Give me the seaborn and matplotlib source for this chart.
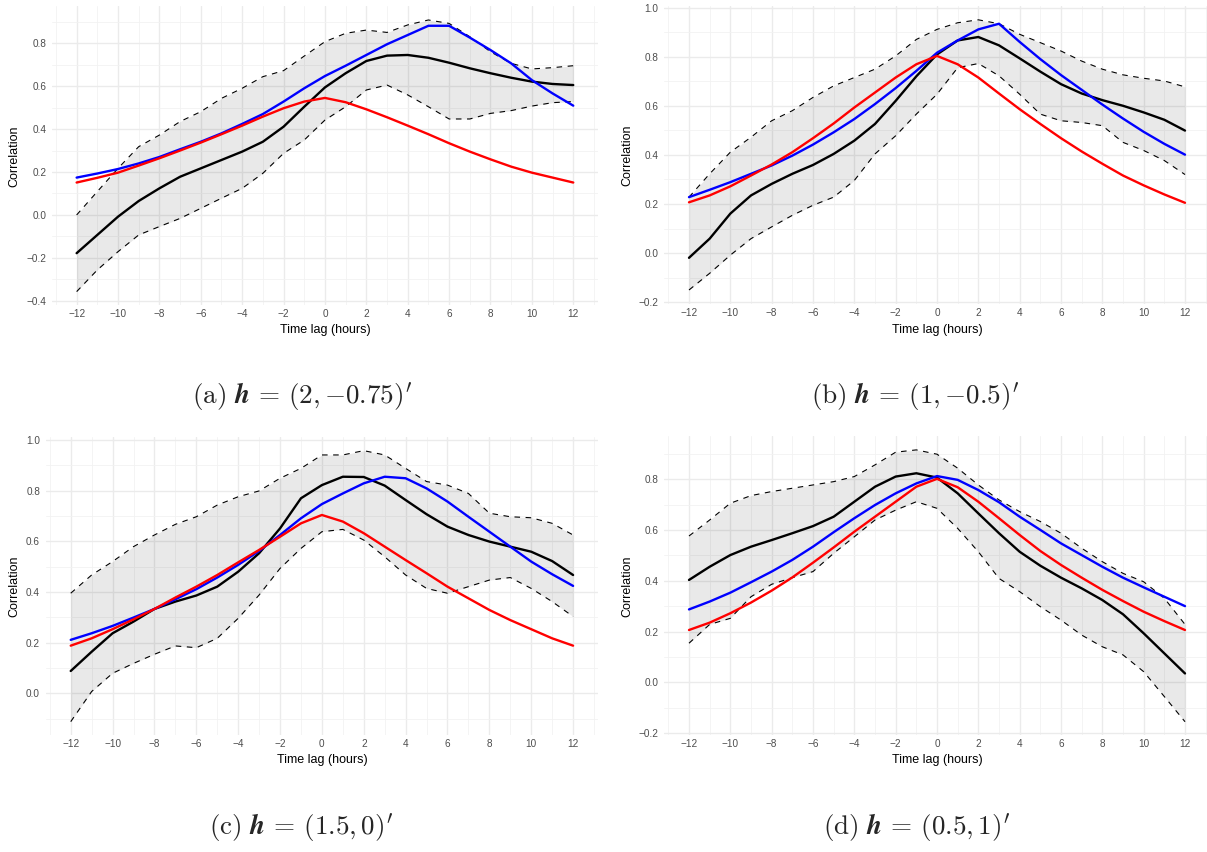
import numpy as np
import pandas as pd
import matplotlib
matplotlib.use("Agg")
import matplotlib.pyplot as plt
from matplotlib.ticker import MultipleLocator, FuncFormatter
import seaborn as sns

sns.set_theme(style="white")
plt.rcParams['font.family'] = ['Liberation Sans', 'DejaVu Sans']
plt.rcParams['mathtext.fontset'] = 'cm'

lags = list(range(-12, 13))

a_black = [-0.178, -0.093, -0.008, 0.065, 0.124, 0.178, 0.217, 0.256, 0.295, 0.341, 0.411, 0.504,
           0.594, 0.66, 0.717, 0.742, 0.745, 0.732, 0.709, 0.683, 0.66, 0.639, 0.621, 0.61, 0.605]
a_blue = [0.174, 0.193, 0.214, 0.24, 0.27, 0.306, 0.341, 0.38, 0.424, 0.47, 0.528, 0.59,
          0.647, 0.695, 0.745, 0.795, 0.838, 0.881, 0.881, 0.826, 0.768, 0.706, 0.628, 0.566, 0.509]
a_red = [0.151, 0.173, 0.197, 0.23, 0.264, 0.3, 0.337, 0.376, 0.416, 0.458, 0.497, 0.528,
         0.545, 0.525, 0.492, 0.455, 0.416, 0.376, 0.334, 0.295, 0.259, 0.225, 0.197, 0.174, 0.151]
a_upper = [0.0, 0.109, 0.217, 0.318, 0.372, 0.435, 0.481, 0.543, 0.59, 0.644, 0.672, 0.74,
           0.807, 0.846, 0.861, 0.85, 0.885, 0.908, 0.892, 0.83, 0.76, 0.706, 0.68, 0.686, 0.695]
a_lower = [-0.357, -0.256, -0.171, -0.093, -0.054, -0.016, 0.031, 0.078, 0.124, 0.194, 0.287, 0.349,
           0.442, 0.504, 0.582, 0.605, 0.559, 0.504, 0.447, 0.447, 0.473, 0.486, 0.507, 0.523, 0.528]

b_black = [-0.019, 0.059, 0.161, 0.235, 0.282, 0.323, 0.359, 0.404, 0.458, 0.526, 0.62, 0.72,
           0.809, 0.866, 0.88, 0.846, 0.793, 0.739, 0.688, 0.65, 0.623, 0.6, 0.573, 0.543, 0.499]
b_blue = [0.228, 0.258, 0.289, 0.323, 0.357, 0.397, 0.442, 0.492, 0.546, 0.607, 0.672, 0.742,
          0.816, 0.866, 0.911, 0.934, 0.86, 0.79, 0.725, 0.665, 0.605, 0.548, 0.494, 0.445, 0.401]
b_red = [0.207, 0.235, 0.272, 0.316, 0.361, 0.411, 0.468, 0.528, 0.593, 0.654, 0.715, 0.769,
         0.803, 0.769, 0.715, 0.65, 0.586, 0.526, 0.468, 0.414, 0.364, 0.316, 0.276, 0.239, 0.205]
b_upper = [0.228, 0.323, 0.411, 0.472, 0.539, 0.58, 0.634, 0.681, 0.715, 0.749, 0.803, 0.87,
           0.911, 0.938, 0.95, 0.934, 0.891, 0.857, 0.823, 0.782, 0.749, 0.726, 0.712, 0.701, 0.677]
b_lower = [-0.15, -0.082, -0.008, 0.059, 0.107, 0.154, 0.195, 0.228, 0.296, 0.404, 0.478, 0.566,
           0.647, 0.755, 0.772, 0.722, 0.647, 0.566, 0.539, 0.532, 0.519, 0.451, 0.418, 0.377, 0.32]

c_black = [0.088, 0.164, 0.237, 0.283, 0.333, 0.362, 0.386, 0.421, 0.48, 0.553, 0.651, 0.77,
           0.822, 0.855, 0.854, 0.82, 0.763, 0.707, 0.658, 0.625, 0.599, 0.579, 0.559, 0.522, 0.467]
c_blue = [0.211, 0.237, 0.266, 0.299, 0.333, 0.371, 0.411, 0.457, 0.507, 0.562, 0.625, 0.691,
          0.747, 0.789, 0.829, 0.855, 0.849, 0.809, 0.757, 0.697, 0.638, 0.579, 0.52, 0.47, 0.424]
c_red = [0.188, 0.217, 0.253, 0.292, 0.333, 0.378, 0.421, 0.467, 0.517, 0.566, 0.618, 0.671,
         0.704, 0.678, 0.632, 0.579, 0.526, 0.474, 0.421, 0.375, 0.329, 0.289, 0.253, 0.217, 0.188]
c_upper = [0.395, 0.467, 0.52, 0.579, 0.625, 0.667, 0.697, 0.743, 0.776, 0.799, 0.849, 0.888,
           0.941, 0.941, 0.958, 0.941, 0.888, 0.836, 0.822, 0.789, 0.711, 0.697, 0.693, 0.671, 0.625]
c_lower = [-0.112, 0.007, 0.079, 0.118, 0.154, 0.187, 0.18, 0.217, 0.296, 0.388, 0.493, 0.572,
           0.638, 0.647, 0.605, 0.539, 0.467, 0.414, 0.395, 0.421, 0.447, 0.457, 0.414, 0.362, 0.303]

d_black = [0.403, 0.455, 0.501, 0.534, 0.56, 0.587, 0.615, 0.652, 0.711, 0.77, 0.81, 0.823,
           0.806, 0.744, 0.665, 0.587, 0.514, 0.459, 0.412, 0.37, 0.324, 0.268, 0.193, 0.114, 0.035]
d_blue = [0.287, 0.318, 0.353, 0.394, 0.436, 0.482, 0.534, 0.591, 0.646, 0.698, 0.744, 0.783,
          0.812, 0.797, 0.757, 0.709, 0.652, 0.6, 0.547, 0.501, 0.455, 0.412, 0.374, 0.337, 0.3]
d_red = [0.206, 0.235, 0.272, 0.314, 0.361, 0.413, 0.471, 0.531, 0.593, 0.652, 0.711, 0.77,
         0.801, 0.768, 0.711, 0.646, 0.58, 0.517, 0.462, 0.412, 0.364, 0.32, 0.278, 0.241, 0.206]
d_upper = [0.576, 0.639, 0.705, 0.735, 0.751, 0.764, 0.777, 0.79, 0.81, 0.856, 0.906, 0.915,
           0.898, 0.843, 0.777, 0.718, 0.672, 0.633, 0.587, 0.528, 0.475, 0.429, 0.396, 0.331, 0.228]
d_lower = [0.154, 0.228, 0.252, 0.337, 0.386, 0.412, 0.436, 0.508, 0.573, 0.639, 0.678, 0.711,
           0.685, 0.606, 0.514, 0.409, 0.357, 0.298, 0.245, 0.186, 0.14, 0.108, 0.042, -0.056, -0.155]

captions = [r"$\mathrm{(a)}\ \boldsymbol{h}\,=\,(2, {-}0.75)'$",
            r"$\mathrm{(b)}\ \boldsymbol{h}\,=\,(1, {-}0.5)'$",
            r"$\mathrm{(c)}\ \boldsymbol{h}\,=\,(1.5, 0)'$",
            r"$\mathrm{(d)}\ \boldsymbol{h}\,=\,(0.5, 1)'$"]

panels = [
    (a_black, a_blue, a_red, a_upper, a_lower),
    (b_black, b_blue, b_red, b_upper, b_lower),
    (c_black, c_blue, c_red, c_upper, c_lower),
    (d_black, d_blue, d_red, d_upper, d_lower),
]

W, H = 1207, 852
# pixel boxes (left, right, top, bottom)
boxes = [(51.8, 598.1, 6.4, 305.2),
         (664.2, 1209.8, 6.3, 303.5),
         (45.6, 598.2, 437.1, 735.2),
         (664.2, 1209.8, 436.3, 735.3)]
cap_pos = [(302, 397), (915, 397), (301, 828), (917, 828)]
ylab_x = [14, 627, 14, 627]
xlab_y = [330, 330, 760, 760]


def fmt_y(v, pos):
    s = '%.1f' % v
    if s == '-0.0':
        s = '0.0'
    return s.replace('-', '\u2212')


def fmt_x(v, pos):
    return ('%d' % round(v)).replace('-', '\u2212')


fig = plt.figure(figsize=(W / 100, H / 100), dpi=100)
fig.patch.set_facecolor('white')

for i, (blk, blu, rd, up, lo) in enumerate(panels):
    L, R, T, B = boxes[i]
    ax = fig.add_axes([L / W, (H - B) / H, (R - L) / W, (B - T) / H])
    ax.set_facecolor('white')
    df = pd.DataFrame({'lag': lags, 'black': blk, 'blue': blu, 'red': rd,
                       'upper': up, 'lower': lo})
    ax.fill_between(df['lag'], df['lower'], df['upper'], color='black', alpha=0.085,
                    linewidth=0, zorder=1)
    sns.lineplot(data=df, x='lag', y='upper', color='black', linewidth=0.8,
                 linestyle=(0, (5, 5)), ax=ax, zorder=2)
    sns.lineplot(data=df, x='lag', y='lower', color='black', linewidth=0.8,
                 linestyle=(0, (5, 5)), ax=ax, zorder=2)
    sns.lineplot(data=df, x='lag', y='black', color='black', linewidth=1.7, ax=ax, zorder=3)
    sns.lineplot(data=df, x='lag', y='blue', color='#0000FF', linewidth=1.7, ax=ax, zorder=3)
    sns.lineplot(data=df, x='lag', y='red', color='#FF0000', linewidth=1.7, ax=ax, zorder=3)

    lo_v = min(lo + blk + blu + rd)
    hi_v = max(up + blk + blu + rd)
    pad = 0.05 * (hi_v - lo_v)
    ax.set_ylim(lo_v - pad, hi_v + pad)
    ax.set_xlim(-13.2, 13.2)

    ax.xaxis.set_major_locator(MultipleLocator(2))
    ax.xaxis.set_minor_locator(MultipleLocator(1))
    ax.yaxis.set_major_locator(MultipleLocator(0.2))
    ax.yaxis.set_minor_locator(MultipleLocator(0.1))
    ax.yaxis.set_major_formatter(FuncFormatter(fmt_y))
    ax.xaxis.set_major_formatter(FuncFormatter(fmt_x))
    ax.grid(which='major', color='#EBEBEB', linewidth=1.0)
    ax.grid(which='minor', color='#F2F2F2', linewidth=0.6)
    ax.set_axisbelow(True)
    for s in ax.spines.values():
        s.set_visible(False)
    ax.tick_params(axis='both', which='both', length=0, labelsize=7.2,
                   labelcolor='#4D4D4D')
    ax.tick_params(axis='x', pad=3)
    ax.tick_params(axis='y', pad=4)

    ax.set_xlabel('Time lag (hours)', fontsize=9, color='black', va='center')
    ax.set_ylabel('Correlation', fontsize=9, color='black', va='center')
    ax.xaxis.set_label_coords(0.5, (B - xlab_y[i]) / (B - T))
    ax.yaxis.set_label_coords((ylab_x[i] - L) / (R - L), 0.5)

    cx, cy = cap_pos[i]
    fig.text(cx / W, 1 - cy / H, captions[i], ha='center', va='center', fontsize=19.5)

fig.savefig('out.png', dpi=100, facecolor='white')
